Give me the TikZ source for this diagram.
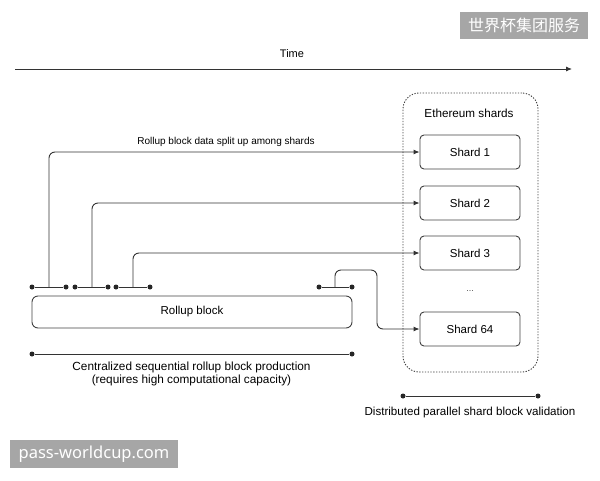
\documentclass[tikz,border=0pt]{standalone}
\usepackage{fontspec}
\setmainfont{Liberation Sans}
\newfontfamily\cjk{Noto Sans CJK SC}
\newfontfamily\wmfont{Noto Sans}
\usetikzlibrary{arrows.meta}
\begin{document}
\begin{tikzpicture}[x=1pt,y=-1pt,
  ln/.style={draw=black!80, line width=0.9pt},
  conn/.style={ln, rounded corners=6pt, -{Latex[length=6pt,width=5pt]}},
  shard/.style={draw=black!75, line width=0.9pt, rounded corners=4pt, minimum width=100pt, minimum height=34pt, font=\fontsize{11.5}{13}\selectfont},
  dotc/.style={circle, fill=black!85, inner sep=0pt, minimum size=5pt},
  wm/.style={fill=black!35, text=white, inner sep=0pt}
]
\useasboundingbox (0,0) rectangle (600,480);

% time axis
\node[font=\fontsize{11}{13}\selectfont] (time) at (292,54) {Time};
\coordinate (tl) at (15,69);
\coordinate (tr) at (572,69);
\draw[ln, -{Latex[length=6pt,width=5pt]}] (tl) -- (tr);

% shard group
\node[draw=black!75, line width=0.9pt, dash pattern=on 1.3pt off 1.5pt, rounded corners=16pt,
      minimum width=135pt, minimum height=279pt] (grp) at (470.5,232.5) {};
\node[font=\fontsize{11.7}{13}\selectfont] (eth) at (469,113) {Ethereum shards};
\node[shard] (s1) at (470,152) {Shard 1};
\node[shard] (s2) at (470,203) {Shard 2};
\node[shard] (s3) at (470,253) {Shard 3};
\node[font=\fontsize{9}{11}\selectfont, text=black!70] (dots) at (470,291) {...};
\node[shard] (s64) at (470,329) {Shard 64};

% rollup block
\node[draw=black!75, line width=0.9pt, rounded corners=6pt, minimum width=320pt, minimum height=32pt,
      font=\fontsize{11.5}{13}\selectfont] (rb) at (192,312) {Rollup block};

% segments on top of rollup block
\foreach \n/\a/\b in {1/32/66, 2/75/108, 3/116/150, 4/319/352}{
  \node[dotc] (p\n a) at (\a,287) {};
  \node[dotc] (p\n b) at (\b,287) {};
  \draw[ln] (p\n a) -- (p\n b);
}
\coordinate (c1) at (49,287);
\coordinate (c2) at (92,287);
\coordinate (c3) at (133,287);
\coordinate (c4) at (335,287);
\coordinate (k4a) at (335,270);
\coordinate (k4b) at (377,270);

\draw[conn] (c1) |- (s1.west);
\draw[conn] (c2) |- (s2.west);
\draw[conn] (c3) |- (s3.west);
\draw[conn] (c4) -- (k4a) -- (k4b) |- (s64.west);

\node[font=\fontsize{10}{12}\selectfont] (lbl) at (226,142) {Rollup block data split up among shards};

% bottom left range
\node[dotc] (bl1) at (32,354) {};
\node[dotc] (bl2) at (352,354) {};
\draw[ln] (bl1) -- (bl2);
\node[font=\fontsize{11.8}{12.5}\selectfont, align=center] (cent) at (191.5,374)
  {Centralized sequential rollup block production\\(requires high computational capacity)};

% bottom right range
\node[dotc] (br1) at (403,396) {};
\node[dotc] (br2) at (538,396) {};
\draw[ln] (br1) -- (br2);
\node[font=\fontsize{11.6}{13}\selectfont] (dist) at (470,412) {Distributed parallel shard block validation};

% watermark boxes
\node[wm, minimum width=128pt, minimum height=27pt, font=\cjk\fontsize{16}{18}\selectfont] (wm1) at (524,25) {世界杯集团服务};
\node[wm, minimum width=168pt, minimum height=28pt, font=\wmfont\fontsize{16.5}{18}\selectfont] (wm2) at (94,454) {pass-worldcup.com};
\end{tikzpicture}
\end{document}
